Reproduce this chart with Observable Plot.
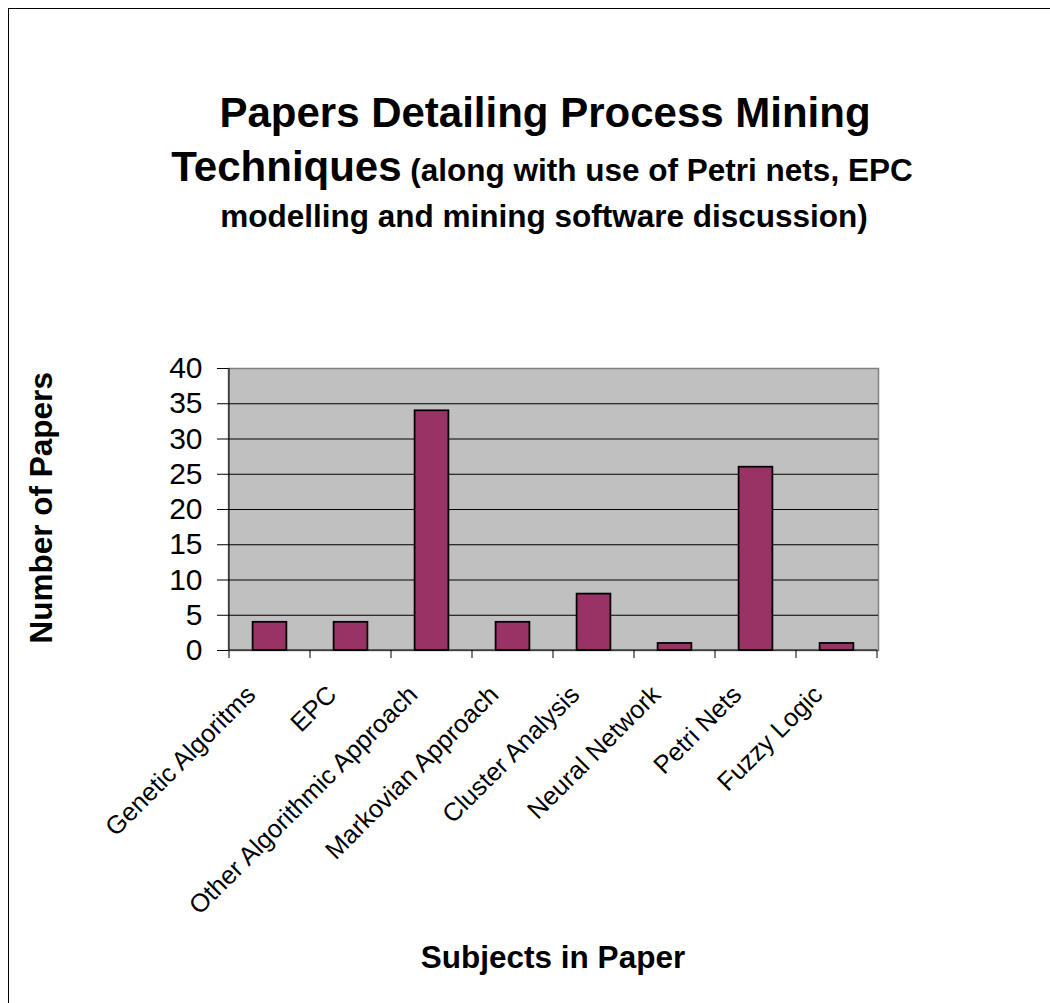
<!DOCTYPE html>
<html>
<head>
<meta charset="utf-8">
<script src="https://cdn.jsdelivr.net/npm/d3@7"></script>
<script src="https://cdn.jsdelivr.net/npm/@observablehq/plot@0.6"></script>
<style>
  html, body { margin: 0; padding: 0; background: #fff; }
  #page { position: relative; width: 1050px; height: 1003px; overflow: hidden;
          font-family: "Liberation Sans", Arial, sans-serif; color: #000; }
  #border { position: absolute; left: 8px; top: 8px; width: 1200px; height: 1200px;
            border-left: 1px solid #000; border-top: 1px solid #000; }
  .t { position: absolute; width: 1000px; text-align: center; font-weight: bold;
       white-space: nowrap; line-height: 1; }
  #chart { position: absolute; left: 0; top: 330px; }
</style>
</head>
<body>
<div id="page">
  <div id="border"></div>
  <div class="t" style="left:45px;top:91.5px;font-size:42px">Papers Detailing Process Mining</div>
  <div class="t" style="left:42px;top:146.4px;font-size:42px">Techniques<span style="font-size:31.5px"> (along with use of Petri nets, EPC</span></div>
  <div class="t" style="left:44px;top:201.3px;font-size:31.5px">modelling and mining software discussion)</div>
  <div id="chart"></div>
  <div class="t" style="left:53px;top:942.3px;font-size:31.5px">Subjects in Paper</div>
  <div class="t" style="left:-458.5px;top:491.75px;font-size:31.5px;transform:rotate(-90deg)">Number of Papers</div>
</div>
<script>
// Subjects covered by the surveyed papers and how many papers cover each
const subjects = [
  "Genetic Algoritms",
  "EPC",
  "Other Algorithmic Approach",
  "Markovian Approach",
  "Cluster Analysis",
  "Neural Network",
  "Petri Nets",
  "Fuzzy Logic"
];
const paperCounts = [4, 4, 34, 4, 8, 1, 26, 1];

// Value axis ticks
const yTicks = [0, 5, 10, 15, 20, 25, 30, 35, 40];
const gridTicks = yTicks.filter(v => v > 0 && v < 40);

const rows = subjects.map((subject, i) => ({subject, papers: paperCounts[i]}));

// Category axis: baseline, left value-axis line and tick marks on the category boundaries
function categoryAxis(index, scales) {
  const x = scales.x, y = scales.y;
  const step = x(subjects[1]) - x(subjects[0]);
  const edges = subjects.map(s => x(s));
  edges.push(x(subjects[subjects.length - 1]) + step);
  const y0 = y(0), yTop = y(40);
  const g = d3.create("svg:g").attr("stroke", "#000").attr("stroke-width", 1);
  g.selectAll("line.edge").data(edges).join("line")
    .attr("class", "edge")
    .attr("x1", d => d).attr("x2", d => d)
    .attr("y1", y0).attr("y2", y0 + 8);
  g.append("line")
    .attr("x1", edges[0]).attr("x2", edges[edges.length - 1])
    .attr("y1", y0).attr("y2", y0);
  g.append("line")
    .attr("x1", edges[0]).attr("x2", edges[0])
    .attr("y1", yTop).attr("y2", y0);
  return g.node();
}

const chart = Plot.plot({
  width: 1050,
  height: 673,
  marginTop: 38,
  marginLeft: 228,
  marginRight: 172,
  marginBottom: 353,
  style: {fontFamily: "'Liberation Sans', Arial, sans-serif", background: "transparent", overflow: "visible", color: "#000"},
  x: {domain: subjects, padding: 0, axis: null},
  y: {domain: [0, 40]},
  marks: [
    Plot.frame({fill: "#c0c0c0", stroke: "#808080", strokeWidth: 1.5}),
    Plot.gridY(gridTicks, {stroke: "#000", strokeOpacity: 1, strokeWidth: 1}),
    Plot.barY(rows, {
      x: "subject", y: "papers",
      fill: "#993366", stroke: "#000", strokeWidth: 1.75,
      insetLeft: 23.6, insetRight: 23.6
    }),
    categoryAxis,
    Plot.axisY({ticks: yTicks, tickSize: 11, tickPadding: 15, fontSize: 30, label: null}),
    Plot.text(rows, {
      x: "subject", text: "subject", frameAnchor: "bottom",
      rotate: -45, textAnchor: "end", lineAnchor: "middle",
      dx: -18.7, dy: 40, fontSize: 25.5, fill: "#000"
    })
  ]
});
document.getElementById("chart").appendChild(chart);
</script>
</body>
</html>
